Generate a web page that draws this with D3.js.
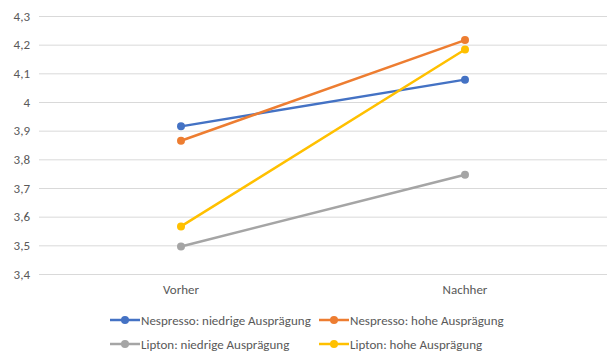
<!DOCTYPE html>
<html>
<head>
<meta charset="utf-8">
<script src="https://cdn.jsdelivr.net/npm/d3@7"></script>
<style>
  html, body { margin: 0; padding: 0; background: #fff; }
  svg { display: block; }
  text { font-family: Carlito, "Open Sans", "Liberation Sans", sans-serif; fill: #595959; }
</style>
</head>
<body>
<svg id="chart" width="607" height="351"></svg>
<script>
// Zeitpunkte
const categories = ["Vorher", "Nachher"];
// Mittelwerte je Gruppe
const seriesNames = [
  "Nespresso: niedrige Ausprägung",
  "Nespresso: hohe Ausprägung",
  "Lipton: niedrige Ausprägung",
  "Lipton: hohe Ausprägung"
];
const nespressoNiedrig = [3.915, 4.078];
const nespressoHoch = [3.865, 4.216];
const liptonNiedrig = [3.496, 3.746];
const liptonHoch = [3.566, 4.183];
const seriesColors = ["#4472C4", "#ED7D31", "#A5A5A5", "#FFC000"];
const yTicks = [3.4, 3.5, 3.6, 3.7, 3.8, 3.9, 4.0, 4.1, 4.2, 4.3];

const seriesValues = [nespressoNiedrig, nespressoHoch, liptonNiedrig, liptonHoch];
const series = seriesNames.map((name, i) => ({ name, values: seriesValues[i], color: seriesColors[i] }));

const svg = d3.select("#chart");
const plotLeft = 39, plotRight = 607, plotTop = 16, plotBottom = 274;

const x = d3.scaleBand().domain(categories).range([plotLeft, plotRight]);
const y = d3.scaleLinear().domain([3.4, 4.3]).range([plotBottom, plotTop]);
const fmt = v => d3.format(".1f")(v).replace(/\.0$/, "").replace(".", ",");

// Gitterlinien
svg.append("g")
  .attr("transform", `translate(${plotLeft},0)`)
  .call(d3.axisLeft(y).tickValues(yTicks).tickSize(-(plotRight - plotLeft)).tickFormat(fmt))
  .call(g => g.select(".domain").remove())
  .call(g => g.selectAll(".tick line").attr("stroke", "#D9D9D9").attr("stroke-width", 1))
  .call(g => g.selectAll(".tick text").attr("x", -9).attr("font-size", 13).attr("fill", "#595959"));

// Kategorienachse
svg.append("g")
  .attr("transform", `translate(0,${plotBottom})`)
  .call(d3.axisBottom(x).tickSize(0).tickPadding(11))
  .call(g => g.select(".domain").remove())
  .call(g => g.selectAll(".tick text").attr("font-size", 13).attr("fill", "#595959"));

const line = d3.line()
  .x((d, i) => x(categories[i]) + x.bandwidth() / 2)
  .y(d => y(d));

const sg = svg.append("g").selectAll("g").data(series).join("g");
sg.append("path")
  .attr("d", d => line(d.values))
  .attr("fill", "none")
  .attr("stroke", d => d.color)
  .attr("stroke-width", 2.5)
  .attr("stroke-linecap", "round");
sg.selectAll("circle")
  .data(d => d.values.map((v, i) => ({ v, i, color: d.color })))
  .join("circle")
  .attr("cx", d => x(categories[d.i]) + x.bandwidth() / 2)
  .attr("cy", d => y(d.v))
  .attr("r", 4)
  .attr("fill", d => d.color);

// Legende (2 x 2)
const legendX = [110, 319];
const legendY = [320, 344];
const lg = svg.append("g").selectAll("g").data(series).join("g")
  .attr("transform", (d, i) => `translate(${legendX[i % 2]},${legendY[Math.floor(i / 2)]})`);
lg.append("line")
  .attr("x1", 0).attr("x2", 30).attr("y1", 0).attr("y2", 0)
  .attr("stroke", d => d.color).attr("stroke-width", 2.5);
lg.append("circle").attr("cx", 15).attr("cy", 0).attr("r", 4).attr("fill", d => d.color);
lg.append("text")
  .attr("x", 31).attr("y", 0).attr("dy", "0.35em")
  .attr("font-size", 13)
  .text(d => d.name);
</script>
</body>
</html>
